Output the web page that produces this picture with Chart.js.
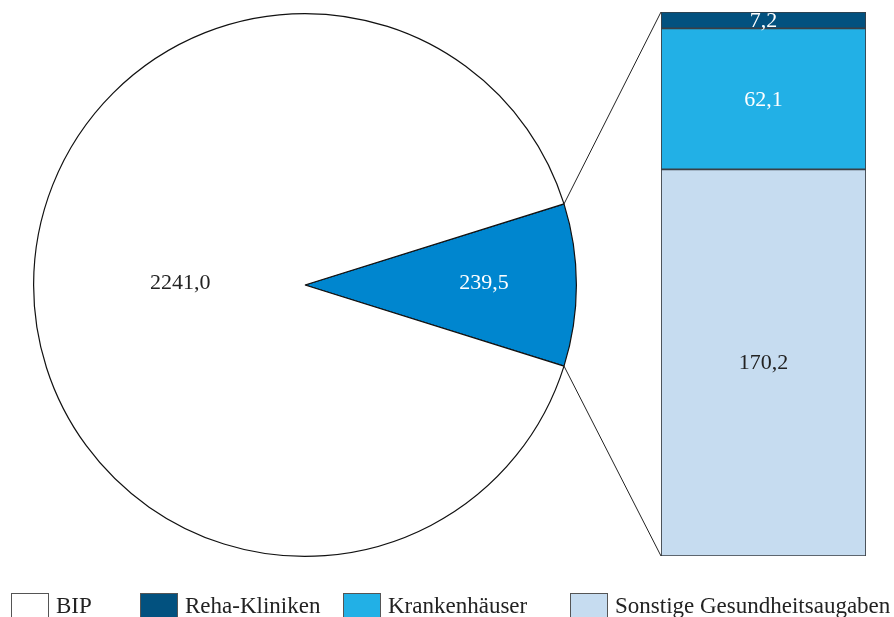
<!DOCTYPE html>
<html>
<head>
<meta charset="utf-8">
<script src="https://cdn.jsdelivr.net/npm/chart.js@4.4.1/dist/chart.umd.min.js"></script>
<style>
    body { margin: 0; background: #fff; }
    #stage { position: relative; width: 894px; height: 617px; overflow: hidden; background: #fff; }
    #pieChart, #barChart, #lines { position: absolute; }
    #pieChart { left: 31px; top: 11px; }
    #barChart { left: 660px; top: 11px; }
    #lines { left: 0; top: 0; pointer-events: none; }
    .legend-item { position: absolute; top: 593px; display: flex; align-items: flex-start;
        font-family: "Liberation Serif", "DejaVu Serif", serif; font-size: 23px; color: #222; }
    .legend-box { width: 36px; height: 23px; border: 1px solid #555; margin-right: 7px; }
    .legend-text { line-height: 24px; margin-top: 1px; }
</style>
</head>
<body>
<div id="stage">
    <canvas id="pieChart" width="548" height="548"></canvas>
    <canvas id="barChart" width="207" height="546"></canvas>
    <canvas id="lines" width="894" height="617"></canvas>
    <div id="legend"></div>
</div>
<script>
//! ====================== Data =================================
const pieLabels = ['Gesundheitsausgaben', 'BIP'];
const pieValues = [239.5, 2241.0];
const pieColors = ['#0086cf', '#ffffff'];

const barLabels = ['Sonstige Gesundheitsaugaben', 'Krankenhäuser', 'Reha-Kliniken'];
const barValues = [170.2, 62.1, 7.2];
const barColors = ['#c6dcf0', '#22b0e6', '#02517f'];
const barTextColors = ['#222222', '#ffffff', '#ffffff'];

const legendLabels = ['BIP', 'Reha-Kliniken', 'Krankenhäuser', 'Sonstige Gesundheitsaugaben'];
const legendColors = ['#ffffff', '#02517f', '#22b0e6', '#c6dcf0'];
const legendLeft = [11, 140, 343, 570];

const FONT = '22px "Liberation Serif", "DejaVu Serif", serif';

function fmt(v) {
    return v.toFixed(1).replace('.', ',');
}

//! ====================== Pie Chart =================================
// slice is centred on the right-hand side
const pieTotal = pieValues.reduce((a, b) => a + b, 0);
const pieRotation = 90 - pieValues[0] / pieTotal * 180;
const labelRadius = [0.66, 0.46];

const pieLabelPlugin = {
    id: 'pieLabels',
    afterDatasetsDraw(chart) {
        const ctx = chart.ctx;
        const meta = chart.getDatasetMeta(0);
        ctx.save();
        ctx.font = FONT;
        ctx.textAlign = 'center';
        ctx.textBaseline = 'middle';
        meta.data.forEach((arc, i) => {
            const mid = (arc.startAngle + arc.endAngle) / 2;
            const r = arc.outerRadius * labelRadius[i];
            ctx.fillStyle = i === 0 ? '#ffffff' : '#222222';
            ctx.fillText(fmt(pieValues[i]), arc.x + Math.cos(mid) * r, arc.y + Math.sin(mid) * r - 2);
        });
        ctx.restore();
    }
};

const pieChart = new Chart(document.getElementById('pieChart'), {
    type: 'pie',
    data: {
        labels: pieLabels,
        datasets: [{
            data: pieValues,
            backgroundColor: pieColors,
            borderColor: '#111111',
            borderWidth: 1.2,
            borderAlign: 'center'
        }]
    },
    options: {
        responsive: false,
        animation: false,
        rotation: pieRotation,
        layout: { padding: 2 },
        plugins: { legend: { display: false }, tooltip: { enabled: false } }
    },
    plugins: [pieLabelPlugin]
});

//! ====================== Stacked Bar =================================
const barLabelPlugin = {
    id: 'barLabels',
    afterDatasetsDraw(chart) {
        const ctx = chart.ctx;
        ctx.save();
        ctx.font = FONT;
        ctx.textAlign = 'center';
        ctx.textBaseline = 'middle';
        chart.data.datasets.forEach((ds, i) => {
            const bar = chart.getDatasetMeta(i).data[0];
            ctx.fillStyle = barTextColors[i];
            ctx.fillText(fmt(barValues[i]), bar.x, (bar.y + bar.base) / 2 + 1);
        });
        ctx.restore();
    }
};

const barChart = new Chart(document.getElementById('barChart'), {
    type: 'bar',
    data: {
        labels: [''],
        datasets: barLabels.map((label, i) => ({
            label: label,
            data: [barValues[i]],
            backgroundColor: barColors[i],
            borderColor: '#3a3f45',
            borderWidth: 1.2,
            borderSkipped: false,
            barPercentage: 1,
            categoryPercentage: 1
        }))
    },
    options: {
        responsive: false,
        animation: false,
        layout: { padding: 1 },
        scales: {
            x: { stacked: true, display: false },
            y: { stacked: true, display: false, min: 0, max: barValues.reduce((a, b) => a + b, 0) }
        },
        plugins: { legend: { display: false }, tooltip: { enabled: false } }
    },
    plugins: [barLabelPlugin]
});

//! ====================== Connector Lines =================================
function drawConnectors() {
    const ctx = document.getElementById('lines').getContext('2d');
    const pieBox = document.getElementById('pieChart');
    const barBox = document.getElementById('barChart');
    const arc = pieChart.getDatasetMeta(0).data[0];
    const topBar = barChart.getDatasetMeta(barValues.length - 1).data[0];
    const bottomBar = barChart.getDatasetMeta(0).data[0];

    const px = pieBox.offsetLeft, py = pieBox.offsetTop;
    const bx = barBox.offsetLeft, by = barBox.offsetTop;
    const left = bx + topBar.x - topBar.width / 2;

    ctx.strokeStyle = '#222222';
    ctx.lineWidth = 1;
    ctx.beginPath();
    ctx.moveTo(px + arc.x + Math.cos(arc.startAngle) * arc.outerRadius, py + arc.y + Math.sin(arc.startAngle) * arc.outerRadius);
    ctx.lineTo(left, by + topBar.y);
    ctx.moveTo(px + arc.x + Math.cos(arc.endAngle) * arc.outerRadius, py + arc.y + Math.sin(arc.endAngle) * arc.outerRadius);
    ctx.lineTo(left, by + bottomBar.base);
    ctx.stroke();
}

//! ====================== Legend =================================
function buildLegend() {
    const legend = document.getElementById('legend');
    legendLabels.forEach((label, i) => {
        const item = document.createElement('div');
        item.className = 'legend-item';
        item.style.left = legendLeft[i] + 'px';
        item.innerHTML = `<div class="legend-box" style="background:${legendColors[i]}"></div><span class="legend-text">${label}</span>`;
        legend.appendChild(item);
    });
}

drawConnectors();
buildLegend();
</script>
</body>
</html>
